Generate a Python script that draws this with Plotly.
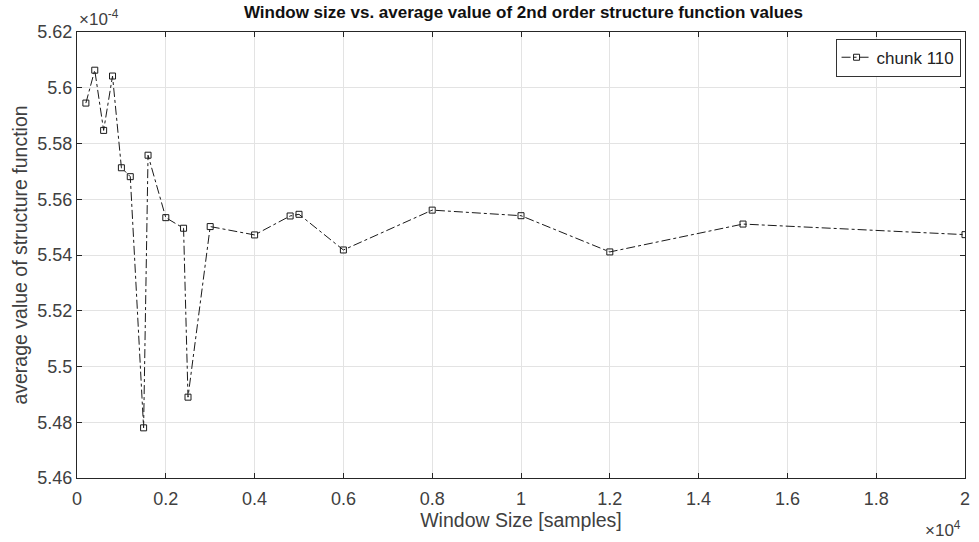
import plotly.graph_objects as go

# Window sizes (samples) and averaged 2nd order structure function values
window_size = [200, 400, 600, 800, 1000, 1200, 1500, 1600, 2000, 2400, 2500,
               3000, 4000, 4800, 5000, 6000, 8000, 10000, 12000, 15000, 20000]
avg_sf = [5.5945e-4, 5.6063e-4, 5.5847e-4, 5.6042e-4, 5.5713e-4, 5.5681e-4,
          5.4780e-4, 5.5758e-4, 5.5534e-4, 5.5496e-4, 5.4890e-4, 5.5502e-4,
          5.5472e-4, 5.5540e-4, 5.5546e-4, 5.5418e-4, 5.5561e-4, 5.5541e-4,
          5.5411e-4, 5.5511e-4, 5.5473e-4]

x_tickvals = [0, 2000, 4000, 6000, 8000, 10000, 12000, 14000, 16000, 18000, 20000]
x_ticktext = ["0", "0.2", "0.4", "0.6", "0.8", "1", "1.2", "1.4", "1.6", "1.8", "2"]
y_tickvals = [5.46e-4, 5.48e-4, 5.50e-4, 5.52e-4, 5.54e-4, 5.56e-4, 5.58e-4, 5.60e-4, 5.62e-4]
y_ticktext = ["5.46", "5.48", "5.5", "5.52", "5.54", "5.56", "5.58", "5.6", "5.62"]

FONT = "Liberation Sans, Arial, sans-serif"
AXC = "#262626"
TXT = "#404040"

fig = go.Figure()
fig.add_trace(go.Scatter(
    x=window_size, y=avg_sf, mode="lines+markers", name="chunk 110",
    line=dict(color="#1a1a1a", width=1, dash="dashdot"),
    marker=dict(symbol="square-open", size=6, color="#1a1a1a", line=dict(width=1)),
))

axis_common = dict(
    showline=True, linecolor=AXC, linewidth=1, mirror="allticks",
    ticks="inside", ticklen=5, tickcolor=AXC,
    showgrid=True, gridcolor="#e3e3e3", gridwidth=1, zeroline=False,
    tickfont=dict(family=FONT, size=18, color=TXT),
)

fig.update_layout(
    width=979, height=542,
    margin=dict(l=77, r=9, t=32, b=64),
    paper_bgcolor="white", plot_bgcolor="white",
    title=dict(text="<b>Window size vs. average value of 2nd order structure function values</b>",
               x=0.5347, xanchor="center", y=0.978, yanchor="middle",
               font=dict(family=FONT, size=17, color="#111111")),
    xaxis=dict(range=[0, 20000], tickvals=x_tickvals, ticktext=x_ticktext,
               ticklabelstandoff=4,
               title=dict(text="Window Size [samples]", standoff=2,
                          font=dict(family=FONT, size=19.5, color=TXT)),
               **axis_common),
    yaxis=dict(range=[5.46e-4, 5.62e-4], tickvals=y_tickvals, ticktext=y_ticktext,
               title=dict(text="average value of structure function", standoff=4,
                          font=dict(family=FONT, size=19.5, color=TXT)),
               **axis_common),
    legend=dict(x=0.995, y=0.985, xanchor="right", yanchor="top",
                bgcolor="white", bordercolor="#333333", borderwidth=1,
                font=dict(family=FONT, size=17, color="#222222"),
                itemwidth=30, tracegroupgap=0),
    showlegend=True,
    annotations=[
        dict(text="×10<sup>-4</sup>", xref="paper", yref="paper", x=0, y=1,
             xanchor="left", yanchor="bottom", yshift=1, showarrow=False,
             font=dict(family=FONT, size=17, color=TXT)),
        dict(text="×10<sup>4</sup>", xref="paper", yref="paper", x=1, y=0,
             xanchor="right", yanchor="top", yshift=-38, xshift=-2, showarrow=False,
             font=dict(family=FONT, size=17, color=TXT)),
    ],
)

fig.write_html("out.html")
